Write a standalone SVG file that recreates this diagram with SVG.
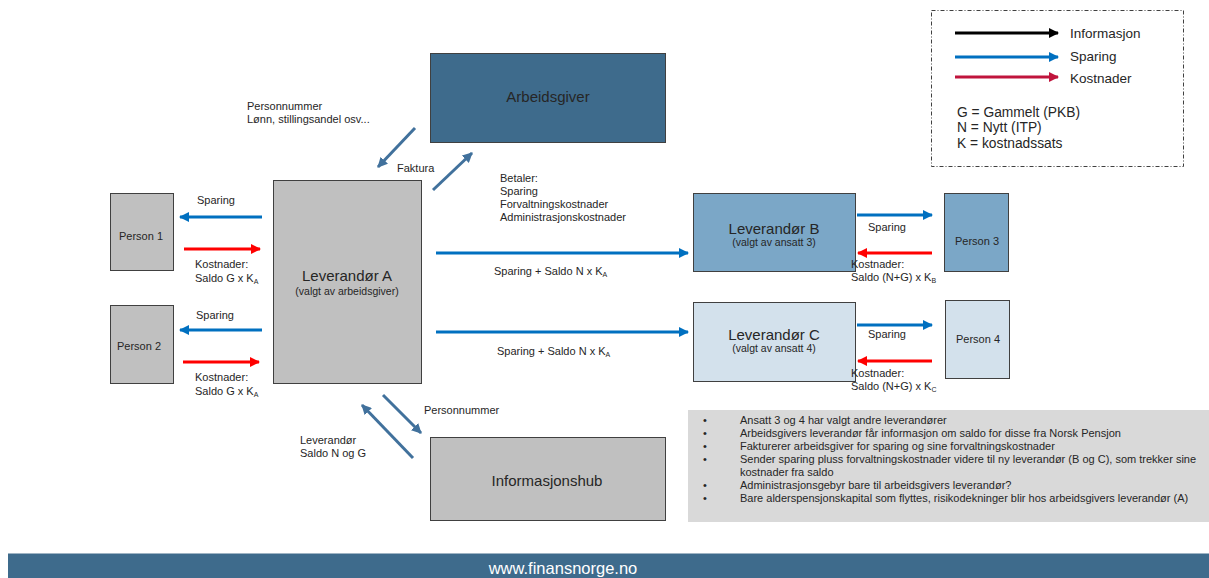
<svg xmlns="http://www.w3.org/2000/svg" width="1209" height="578" viewBox="0 0 1209 578">
<defs>
<marker id="mb" viewBox="0 0 10 10" refX="9" refY="5" markerWidth="3.4" markerHeight="3.4" orient="auto" markerUnits="strokeWidth"><path d="M0,0 L10,5 L0,10 z" fill="#0070C0"/></marker>
<marker id="mr" viewBox="0 0 10 10" refX="9" refY="5" markerWidth="3.4" markerHeight="3.4" orient="auto" markerUnits="strokeWidth"><path d="M0,0 L10,5 L0,10 z" fill="#FF0000"/></marker>
<marker id="ms" viewBox="0 0 10 10" refX="9" refY="5" markerWidth="3.4" markerHeight="3.4" orient="auto" markerUnits="strokeWidth"><path d="M0,0 L10,5 L0,10 z" fill="#41719C"/></marker>
<marker id="mk" viewBox="0 0 10 10" refX="9" refY="5" markerWidth="3.4" markerHeight="3.4" orient="auto" markerUnits="strokeWidth"><path d="M0,0 L10,5 L0,10 z" fill="#000"/></marker>
<marker id="mc" viewBox="0 0 10 10" refX="9" refY="5" markerWidth="3.4" markerHeight="3.4" orient="auto" markerUnits="strokeWidth"><path d="M0,0 L10,5 L0,10 z" fill="#C0143C"/></marker>
</defs>
<style>
text{font-family:"Liberation Sans",Arial,sans-serif;fill:#262626}
.s{font-size:11px}
.n{font-size:11px}
.box{stroke:#404040;stroke-width:1}
.blue{stroke:#0070C0;stroke-width:3;fill:none;marker-end:url(#mb)}
.red{stroke:#FF0000;stroke-width:3;fill:none;marker-end:url(#mr)}
.steel{stroke:#41719C;stroke-width:3;fill:none;marker-end:url(#ms)}
.sub{font-size:7px}
</style>
<rect width="1209" height="578" fill="#fff"/>

<g id="legend">
<rect x="931.5" y="10.5" width="252" height="156" fill="none" stroke="#404040" stroke-width="1" stroke-dasharray="4,2,1,2"/>
<line x1="955" y1="33" x2="1058" y2="33" stroke="#000" stroke-width="3" marker-end="url(#mk)"/>
<line x1="955" y1="57" x2="1058" y2="57" stroke="#0070C0" stroke-width="3" marker-end="url(#mb)"/>
<line x1="955" y1="77" x2="1058" y2="77" stroke="#C0143C" stroke-width="3" marker-end="url(#mc)"/>
<text x="1070" y="38" font-size="13.5">Informasjon</text>
<text x="1070" y="61" font-size="13.5">Sparing</text>
<text x="1070" y="83" font-size="13.5">Kostnader</text>
<text x="957" y="117" font-size="13.8">G = Gammelt (PKB)</text>
<text x="957" y="132" font-size="13.8">N = Nytt (ITP)</text>
<text x="957" y="148" font-size="13.8">K = kostnadssats</text>
</g>

<g id="arbeidsgiver">
<rect class="box" x="430.5" y="53.5" width="235" height="89" fill="#3E6B8C"/>
<text x="548" y="102" font-size="15" text-anchor="middle">Arbeidsgiver</text>
</g>

<g id="leverandor-a">
<rect class="box" x="273.5" y="180.5" width="148" height="203" fill="#C0C0C0"/>
<text x="347" y="281" font-size="15" text-anchor="middle">Leverandør A</text>
<text x="347" y="295" font-size="10.5" text-anchor="middle">(valgt av arbeidsgiver)</text>
</g>

<g id="person1">
<rect class="box" x="110.5" y="193.5" width="63" height="77" fill="#C0C0C0"/>
<text x="141" y="240" font-size="11" text-anchor="middle">Person 1</text>
</g>
<g id="person2">
<rect class="box" x="110.5" y="305.5" width="63" height="78" fill="#C0C0C0"/>
<text x="139" y="350" font-size="11" text-anchor="middle">Person 2</text>
</g>

<g id="leverandor-b">
<rect class="box" x="693.5" y="193.5" width="162" height="78" fill="#7BA7C7"/>
<text x="774" y="234" font-size="15" text-anchor="middle">Leverandør B</text>
<text x="774" y="246" font-size="10.5" text-anchor="middle">(valgt av ansatt 3)</text>
</g>
<g id="person3">
<rect class="box" x="944.5" y="193.5" width="64" height="78" fill="#7BA7C7"/>
<text x="977" y="245" font-size="11" text-anchor="middle">Person 3</text>
</g>

<g id="leverandor-c">
<rect class="box" x="693.5" y="302.5" width="162" height="79" fill="#D3E1EC"/>
<text x="774" y="340" font-size="15" text-anchor="middle">Leverandør C</text>
<text x="774" y="352" font-size="10.5" text-anchor="middle">(valgt av ansatt 4)</text>
</g>
<g id="person4">
<rect class="box" x="945.5" y="300.5" width="64" height="78" fill="#D3E1EC"/>
<text x="978" y="343" font-size="11" text-anchor="middle">Person 4</text>
</g>

<g id="informasjonshub">
<rect class="box" x="430.5" y="437.5" width="235" height="83" fill="#C0C0C0"/>
<text x="547" y="486" font-size="15" text-anchor="middle">Informasjonshub</text>
</g>

<g id="notes">
<rect x="688" y="410" width="521" height="112" fill="#D9D9D9"/>
<g class="n">
<text x="703" y="424">•</text><text x="740" y="424">Ansatt 3 og 4 har valgt andre leverandører</text>
<text x="703" y="437">•</text><text x="740" y="437">Arbeidsgivers leverandør får informasjon om saldo for disse fra Norsk Pensjon</text>
<text x="703" y="450">•</text><text x="740" y="450">Fakturerer arbeidsgiver for sparing og sine forvaltningskostnader</text>
<text x="703" y="463">•</text><text x="740" y="463">Sender sparing pluss forvaltningskostnader videre til ny leverandør (B og C), som trekker sine</text>
<text x="740" y="476">kostnader fra saldo</text>
<text x="703" y="489">•</text><text x="740" y="489">Administrasjonsgebyr bare til arbeidsgivers leverandør?</text>
<text x="703" y="502">•</text><text x="740" y="502">Bare alderspensjonskapital som flyttes, risikodekninger blir hos arbeidsgivers leverandør (A)</text>
</g>
</g>

<g id="connectors">
<line class="blue" x1="262" y1="217" x2="180" y2="217"/>
<line class="red" x1="184" y1="249" x2="260" y2="249"/>
<line class="blue" x1="262" y1="330" x2="180" y2="330"/>
<line class="red" x1="183" y1="362" x2="259" y2="362"/>
<line class="steel" x1="415" y1="128" x2="378" y2="167"/>
<line class="steel" x1="433" y1="190" x2="472" y2="153"/>
<line class="blue" x1="436" y1="253" x2="688" y2="253"/>
<line class="blue" x1="436" y1="332" x2="688" y2="332"/>
<line class="blue" x1="857" y1="215" x2="932" y2="215"/>
<line class="red" x1="932" y1="253" x2="858" y2="253"/>
<line class="blue" x1="857" y1="325" x2="932" y2="325"/>
<line class="red" x1="932" y1="361" x2="858" y2="361"/>
<line class="steel" x1="383" y1="395" x2="421" y2="433"/>
<line class="steel" x1="413" y1="458" x2="362" y2="405"/>
</g>

<g id="labels" class="s">
<text x="197" y="204">Sparing</text>
<text x="195" y="268">Kostnader:</text>
<text x="195" y="282">Saldo G x K<tspan class="sub" dy="2">A</tspan></text>
<text x="196" y="319">Sparing</text>
<text x="195" y="381">Kostnader:</text>
<text x="195" y="395">Saldo G x K<tspan class="sub" dy="2">A</tspan></text>
<text x="247" y="110">Personnummer</text>
<text x="247" y="123">Lønn, stillingsandel osv...</text>
<text x="397" y="172">Faktura</text>
<text x="500" y="182">Betaler:</text>
<text x="500" y="195">Sparing</text>
<text x="500" y="208">Forvaltningskostnader</text>
<text x="500" y="221">Administrasjonskostnader</text>
<text x="494" y="275">Sparing + Saldo N x K<tspan class="sub" dy="2">A</tspan></text>
<text x="497" y="355">Sparing + Saldo N x K<tspan class="sub" dy="2">A</tspan></text>
<text x="868" y="231">Sparing</text>
<text x="851" y="268">Kostnader:</text>
<text x="851" y="281">Saldo (N+G) x K<tspan class="sub" dy="2">B</tspan></text>
<text x="868" y="338">Sparing</text>
<text x="851" y="377">Kostnader:</text>
<text x="851" y="390">Saldo (N+G) x K<tspan class="sub" dy="2">C</tspan></text>
<text x="424" y="414">Personnummer</text>
<text x="300" y="444">Leverandør</text>
<text x="300" y="457">Saldo N og G</text>
</g>

<g id="footer">
<rect x="8" y="553" width="1201" height="25" fill="#3E6B8C"/>
<line x1="8" y1="553.5" x2="1209" y2="553.5" stroke="#9FB4C4" stroke-width="1"/>
<text x="563" y="574" font-size="16.5" text-anchor="middle" style="font-family:'Liberation Sans Narrow','Liberation Sans',sans-serif;fill:#fff">www.finansnorge.no</text>
</g>
</svg>
